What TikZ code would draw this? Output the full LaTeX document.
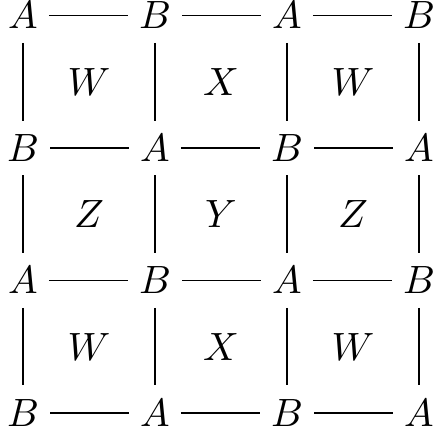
\documentclass[tikz,border=0pt]{standalone}
\usetikzlibrary{positioning}

\begin{document}
\begin{tikzpicture}[
        vertex/.style={inner xsep=2.6pt, inner ysep=0.333em},
        face/.style={inner sep=0pt},
        line/.style={draw, line width=0.4pt}
      ]
      \useasboundingbox (-0.205, 0.138) rectangle (3.670, -3.746);

      % Vertices of the grid
      \node [vertex] (a11) at (0.000, 0.000) {$A$};
      \node [vertex] (a12) at (1.176, 0.000) {$B$};
      \node [vertex] (a13) at (2.352, 0.000) {$A$};
      \node [vertex] (a14) at (3.528, 0.000) {$B$};

      \node [vertex] (a21) at (0.000, -1.180) {$B$};
      \node [vertex] (a22) at (1.176, -1.180) {$A$};
      \node [vertex] (a23) at (2.352, -1.180) {$B$};
      \node [vertex] (a24) at (3.528, -1.180) {$A$};

      \node [vertex] (a31) at (0.000, -2.360) {$A$};
      \node [vertex] (a32) at (1.176, -2.360) {$B$};
      \node [vertex] (a33) at (2.352, -2.360) {$A$};
      \node [vertex] (a34) at (3.528, -2.360) {$B$};

      \node [vertex] (a41) at (0.000, -3.540) {$B$};
      \node [vertex] (a42) at (1.176, -3.540) {$A$};
      \node [vertex] (a43) at (2.352, -3.540) {$B$};
      \node [vertex] (a44) at (3.528, -3.540) {$A$};

      % Faces
      \node [face] (f11) at (0.588, -0.590) {$W$};
      \node [face] (f12) at (1.764, -0.590) {$X$};
      \node [face] (f13) at (2.940, -0.590) {$W$};

      \node [face] (f21) at (0.588, -1.770) {$Z$};
      \node [face] (f22) at (1.764, -1.770) {$Y$};
      \node [face] (f23) at (2.940, -1.770) {$Z$};

      \node [face] (f31) at (0.588, -2.950) {$W$};
      \node [face] (f32) at (1.764, -2.950) {$X$};
      \node [face] (f33) at (2.940, -2.950) {$W$};

      % Horizontal edges
      \foreach \r in {1,2,3,4}
        \foreach \c/\d in {1/2,2/3,3/4}
          \path [line] (a\r\c) -- (a\r\d);

      % Vertical edges
      \foreach \r/\s in {1/2,2/3,3/4}
        \foreach \c in {1,2,3,4}
          \path [line] (a\r\c) -- (a\s\c);

    \end{tikzpicture}
\end{document}
